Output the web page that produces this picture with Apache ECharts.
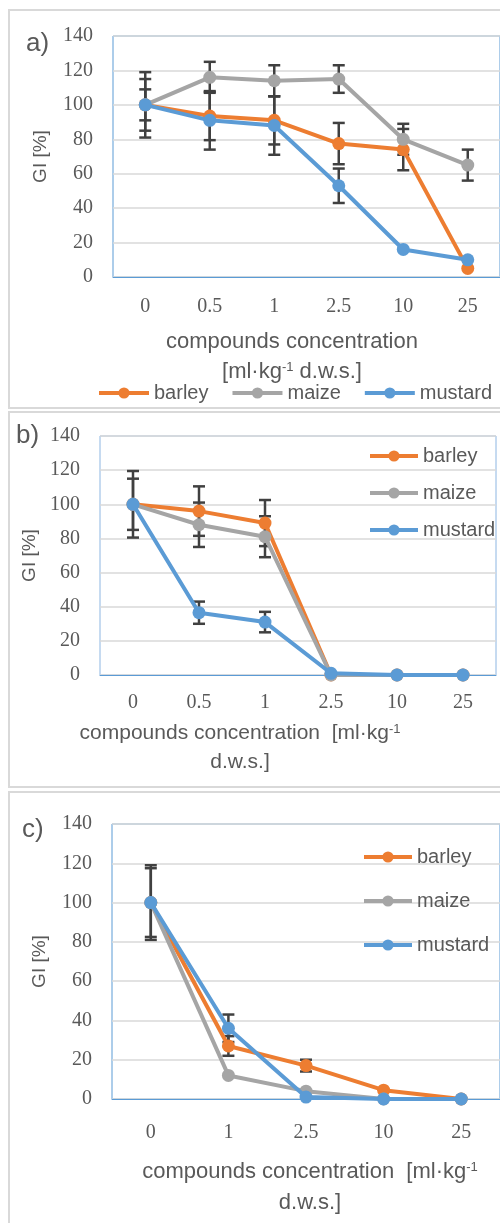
<!DOCTYPE html>
<html>
<head>
    <meta charset="utf-8">
    <title>GI</title>
    <script src="https://cdn.jsdelivr.net/npm/echarts@6/dist/echarts.min.js"></script>
    <style>
        html, body { margin: 0; padding: 0; background: #fff; }
        #main { width: 500px; height: 1223px; }
    </style>
</head>
<body>
<div id="main"></div>
<script type="text/javascript">
    // categories
    var catsAB = ['0', '0.5', '1', '2.5', '10', '25'];
    var catsC = ['0', '1', '2.5', '10', '25'];
    var names = ['barley', 'maize', 'mustard'];
    var colors = ['#ED7D31', '#A5A5A5', '#5B9BD5'];
    var yTicks = [0, 20, 40, 60, 80, 100, 120, 140];

    // a)
    var aBarley = [100, 93.5, 91, 77.5, 74, 5];
    var aMaize = [100, 116, 114, 115, 80, 65];
    var aMustard = [100, 91, 88, 53, 16, 10];
    var aBarleyErr = [15, 14, 14, 12, 12, 0];
    var aMaizeErr = [19, 9, 9, 8, 9, 9];
    var aMustardErr = [9, 17, 17, 10, 0, 0];

    // b)
    var bBarley = [100, 96, 89, 0, 0, 0];
    var bMaize = [100, 88, 81, 0, 0, 0];
    var bMustard = [100, 36.5, 31, 1, 0, 0];
    var bBarleyErr = [15, 14.5, 13.5, 0, 0, 0];
    var bMaizeErr = [19.5, 13, 12, 0, 0, 0];
    var bMustardErr = [0, 6.5, 6, 0, 0, 0];

    // c)
    var cBarley = [100, 27, 17, 4.5, 0];
    var cMaize = [100, 12, 4, 0, 0];
    var cMustard = [100, 36, 1, 0, 0];
    var cBarleyErr = [19, 5, 3, 0, 0];
    var cMaizeErr = [17.5, 0, 0, 0, 0];
    var cMustardErr = [0, 7, 0, 0, 0];

    var txt = '#595959';
    var sans = '"Liberation Sans", Arial, sans-serif';
    var serif = '"Liberation Serif", "Times New Roman", serif';

    var myChart = echarts.init(document.getElementById('main'));

    function errRender(params, api) {
        var x = api.value(0);
        var p1 = api.coord([x, api.value(2)]);
        var p2 = api.coord([x, api.value(1)]);
        var w = 6;
        var st = {stroke: '#404040', lineWidth: 2.5};
        return {
            type: 'group',
            children: [
                {type: 'line', shape: {x1: p1[0], y1: p1[1], x2: p2[0], y2: p2[1]}, style: st},
                {type: 'line', shape: {x1: p1[0] - w, y1: p1[1], x2: p1[0] + w, y2: p1[1]}, style: st},
                {type: 'line', shape: {x1: p2[0] - w, y1: p2[1], x2: p2[0] + w, y2: p2[1]}, style: st}
            ]
        };
    }

    function errData(vals, errs) {
        var out = [];
        for (var i = 0; i < vals.length; i++) {
            if (errs[i] > 0) out.push([i, vals[i] - errs[i], vals[i] + errs[i]]);
        }
        return out;
    }

    var series = [];
    function addPanel(idx, valsList, errList) {
        for (var k = 0; k < 3; k++) {
            series.push({
                type: 'custom',
                xAxisIndex: idx, yAxisIndex: idx,
                renderItem: errRender,
                encode: {x: 0, y: [1, 2]},
                data: errData(valsList[k], errList[k]),
                z: 1,
                silent: true
            });
        }
        for (var k = 0; k < 3; k++) {
            series.push({
                name: names[k],
                type: 'line',
                xAxisIndex: idx, yAxisIndex: idx,
                data: valsList[k],
                symbol: 'circle',
                symbolSize: 13,
                color: colors[k],
                lineStyle: {width: 4, color: colors[k]},
                itemStyle: {color: colors[k]},
                z: 2 + k,
                emphasis: {disabled: true}
            });
        }
    }
    addPanel(0, [aBarley, aMaize, aMustard], [aBarleyErr, aMaizeErr, aMustardErr]);
    addPanel(1, [bBarley, bMaize, bMustard], [bBarleyErr, bMaizeErr, bMustardErr]);
    addPanel(2, [cBarley, cMaize, cMustard], [cBarleyErr, cMaizeErr, cMustardErr]);

    function xAx(idx, cats, margin) {
        return {
            type: 'category', gridIndex: idx, data: cats,
            axisTick: {show: false},
            axisLine: {lineStyle: {color: '#5B9BD5', width: 1}},
            axisLabel: {color: txt, fontFamily: serif, fontSize: 20, margin: margin}
        };
    }
    function yAx(idx, gap) {
        return {
            type: 'value', gridIndex: idx, min: yTicks[0], max: yTicks[yTicks.length - 1], interval: 20,
            name: 'GI [%]', nameLocation: 'middle', nameRotate: 90, nameGap: gap,
            nameTextStyle: {color: txt, fontFamily: sans, fontSize: 19},
            axisLine: {show: false},
            axisTick: {show: false},
            splitLine: {lineStyle: {color: '#D9D9D9', width: 1.5}},
            axisLabel: {color: txt, fontFamily: serif, fontSize: 20, margin: 20}
        };
    }

    var legText = {color: txt, fontFamily: sans, fontSize: 20};
    var legLine = {width: 4};

    function xName(cx, y1, y2, line1, line2, size) {
        var rich = {s: {fontSize: 13, verticalAlign: 'top', fill: txt, fontFamily: sans}};
        return [
            {type: 'text', x: cx, y: y1, style: {text: line1, rich: rich, fill: txt, font: size + 'px ' + sans, align: 'center', verticalAlign: 'middle'}},
            {type: 'text', x: cx, y: y2, style: {text: line2, rich: rich, fill: txt, font: size + 'px ' + sans, align: 'center', verticalAlign: 'middle'}}
        ];
    }

    var graphics = [
        {type: 'rect', shape: {x: 9, y: 10, width: 520, height: 398}, style: {fill: null, stroke: '#D9D9D9', lineWidth: 2}, z: -1},
        {type: 'rect', shape: {x: 9, y: 412, width: 520, height: 375}, style: {fill: null, stroke: '#D9D9D9', lineWidth: 2}, z: -1},
        {type: 'rect', shape: {x: 9, y: 792, width: 520, height: 460}, style: {fill: null, stroke: '#D9D9D9', lineWidth: 2}, z: -1},
        {type: 'text', x: 26, y: 44, style: {text: 'a)', fill: txt, font: '26px ' + sans, verticalAlign: 'middle'}},
        {type: 'text', x: 16, y: 436, style: {text: 'b)', fill: txt, font: '26px ' + sans, verticalAlign: 'middle'}},
        {type: 'text', x: 22, y: 830, style: {text: 'c)', fill: txt, font: '26px ' + sans, verticalAlign: 'middle'}}
    ];
    graphics = graphics
        .concat(xName(292, 342, 372, 'compounds concentration', '[ml·kg{s|-1} d.w.s.]', 22))
        .concat(xName(240, 733, 762, 'compounds concentration  [ml·kg{s|-1}', 'd.w.s.]', 21))
        .concat(xName(310, 1172, 1203, 'compounds concentration  [ml·kg{s|-1}', 'd.w.s.]', 22));

    var option = {
        animation: false,
        backgroundColor: '#fff',
        grid: [
            {left: 113, top: 36, width: 396, height: 241, show: true, borderColor: '#5B9BD5', borderWidth: 1},
            {left: 100, top: 436, width: 396, height: 239, show: true, borderColor: '#8DB6E2', borderWidth: 1},
            {left: 112, top: 824, width: 395, height: 275, show: true, borderColor: '#5B9BD5', borderWidth: 1}
        ],
        xAxis: [xAx(0, catsAB, 20), xAx(1, catsAB, 18), xAx(2, catsC, 24)],
        yAxis: [yAx(0, 63), yAx(1, 59), yAx(2, 63)],
        legend: [
            {data: names, orient: 'horizontal', left: 97, top: 383, padding: 0, itemWidth: 50, itemHeight: 14, itemGap: 22, textStyle: legText, lineStyle: legLine, selectedMode: false},
            {data: names, orient: 'vertical', left: 368, top: 446, padding: 0, itemWidth: 48, itemHeight: 14, itemGap: 17, textStyle: legText, lineStyle: legLine, selectedMode: false},
            {data: names, orient: 'vertical', left: 362, top: 847, padding: 0, itemWidth: 48, itemHeight: 14, itemGap: 24, textStyle: legText, lineStyle: legLine, selectedMode: false}
        ],
        graphic: graphics,
        series: series
    };

    myChart.setOption(option);
</script>
</body>
</html>
